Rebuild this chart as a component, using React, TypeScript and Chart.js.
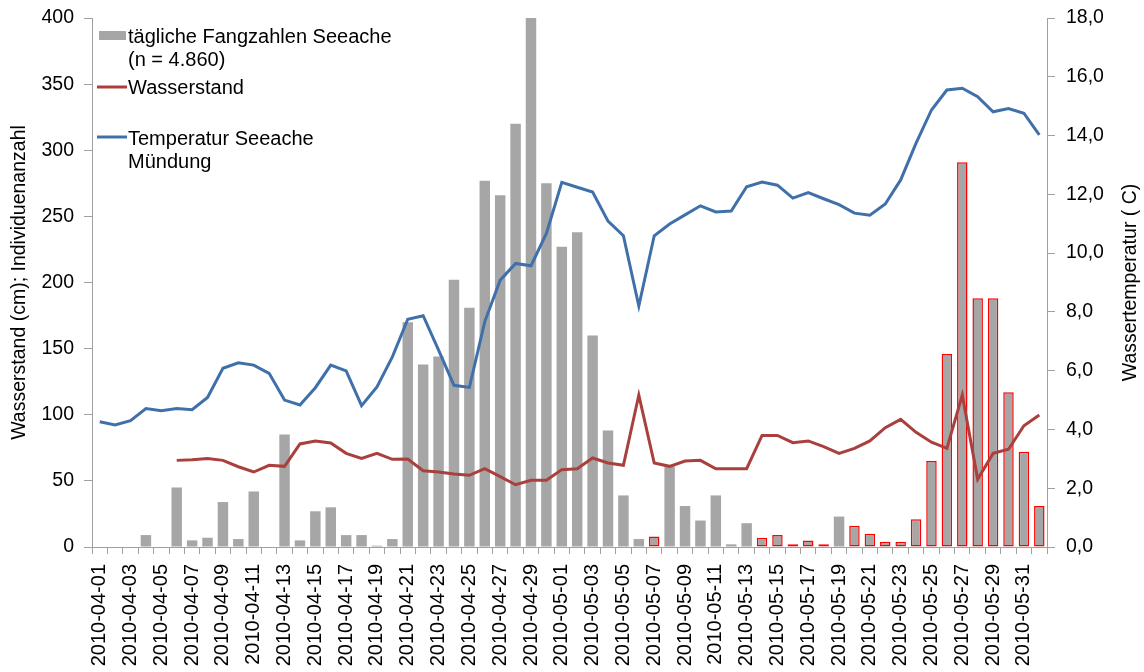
import React, { useEffect, useRef } from 'react';
import { Chart, registerables } from 'chart.js';

Chart.register(...registerables);

const dates = [
  '2010-04-01', '2010-04-02', '2010-04-03', '2010-04-04', '2010-04-05', '2010-04-06', '2010-04-07', '2010-04-08',
  '2010-04-09', '2010-04-10', '2010-04-11', '2010-04-12', '2010-04-13', '2010-04-14', '2010-04-15', '2010-04-16',
  '2010-04-17', '2010-04-18', '2010-04-19', '2010-04-20', '2010-04-21', '2010-04-22', '2010-04-23', '2010-04-24',
  '2010-04-25', '2010-04-26', '2010-04-27', '2010-04-28', '2010-04-29', '2010-04-30',
  '2010-05-01', '2010-05-02', '2010-05-03', '2010-05-04', '2010-05-05', '2010-05-06', '2010-05-07', '2010-05-08',
  '2010-05-09', '2010-05-10', '2010-05-11', '2010-05-12', '2010-05-13', '2010-05-14', '2010-05-15', '2010-05-16',
  '2010-05-17', '2010-05-18', '2010-05-19', '2010-05-20', '2010-05-21', '2010-05-22', '2010-05-23', '2010-05-24',
  '2010-05-25', '2010-05-26', '2010-05-27', '2010-05-28', '2010-05-29', '2010-05-30', '2010-05-31',
  '2010-06-01',
];

// tägliche Fangzahlen Seeache (Individuenanzahl)
const dailyCatch = [
  0, 0, 0, 9, 0, 45, 5, 7, 34, 6,
  42, 0, 85, 5, 27, 30, 9, 9, 1, 6,
  170, 138, 144, 202, 181, 277, 266, 320, 400, 275,
  227, 238, 160, 88, 39, 6, 8, 61, 31, 20,
  39, 2, 18, 7, 9, 2, 5, 2, 23, 16,
  10, 4, 4, 21, 65, 146, 291, 188, 188, 117,
  72, 31,
];

// days whose bar carries a red outline
const outlinedDays = [
  '2010-05-07', '2010-05-14', '2010-05-15', '2010-05-16', '2010-05-17', '2010-05-18',
  '2010-05-20', '2010-05-21', '2010-05-22', '2010-05-23', '2010-05-24', '2010-05-25',
  '2010-05-26', '2010-05-27', '2010-05-28', '2010-05-29', '2010-05-30', '2010-05-31', '2010-06-01',
];

// Wasserstand (cm)
const waterLevel = [
  null, null, null, null, null, 65.5, 66, 67, 65.5, 60.7,
  56.7, 61.8, 61, 77.9, 80.2, 78.6, 70.8, 67, 70.8, 66.3,
  66.5, 57.7, 56.7, 55.2, 54.2, 59.2, 53.2, 47.1, 50.4, 50.4,
  58.5, 59.2, 67.3, 63.5, 61.8, 114.9, 63.5, 61, 65, 65.5,
  59.2, 59.2, 59.2, 84.4, 84.4, 78.9, 80.2, 75.9, 70.8, 74.6,
  80.2, 90.2, 96.5, 86.7, 79.2, 74.6, 114.9, 51.2, 70.8, 73.9,
  91.7, 99.8,
];

// Temperatur Seeache Mündung (°C)
const temperature = [
  4.26, 4.15, 4.3, 4.71, 4.64, 4.71, 4.67, 5.09, 6.08, 6.27,
  6.19, 5.91, 5.0, 4.83, 5.42, 6.19, 5.99, 4.81, 5.45, 6.47,
  7.75, 7.87, 6.7, 5.5, 5.43, 7.67, 9.08, 9.65, 9.57, 10.67,
  12.41, 12.24, 12.08, 11.09, 10.59, 8.2, 10.59, 10.99, 11.3, 11.61,
  11.4, 11.43, 12.26, 12.42, 12.31, 11.87, 12.06, 11.85, 11.65, 11.36,
  11.29, 11.67, 12.49, 13.74, 14.87, 15.55, 15.61, 15.32, 14.81, 14.92,
  14.76, 14.02,
];

const legendLabels = {
  bars: ['tägliche Fangzahlen Seeache', '(n = 4.860)'],
  water: ['Wasserstand'],
  temp: ['Temperatur Seeache', 'Mündung'],
};
const leftTitle = 'Wasserstand (cm); Individuenanzahl';
const rightTitle = 'Wassertemperatur ( C)';

const GREY = '#A6A6A6';
const RED_LINE = '#A9403D';
const BLUE_LINE = '#4070AA';
const AXIS = '#A0A0A0';
const FONT = 'Liberation Sans, Arial, sans-serif';

const overlayPlugin = {
  id: 'overlayLegend',
  afterDraw(chart: any) {
    const ctx = chart.ctx;
    ctx.save();
    ctx.font = `20px ${FONT}`;
    ctx.textAlign = 'left';
    ctx.textBaseline = 'middle';
    // bars
    ctx.fillStyle = GREY;
    ctx.fillRect(99, 31, 27, 9);
    ctx.fillStyle = '#000';
    ctx.fillText(legendLabels.bars[0], 128, 37);
    ctx.fillText(legendLabels.bars[1], 128, 60);
    // water level
    ctx.strokeStyle = RED_LINE;
    ctx.lineWidth = 3;
    ctx.beginPath();
    ctx.moveTo(97, 87);
    ctx.lineTo(127, 87);
    ctx.stroke();
    ctx.fillText(legendLabels.water[0], 128, 88);
    // temperature
    ctx.strokeStyle = BLUE_LINE;
    ctx.beginPath();
    ctx.moveTo(97, 137);
    ctx.lineTo(127, 137);
    ctx.stroke();
    ctx.fillText(legendLabels.temp[0], 128, 139);
    ctx.fillText(legendLabels.temp[1], 128, 162);
    // right axis title (reads bottom to top)
    const area = chart.chartArea;
    ctx.font = `19.5px ${FONT}`;
    ctx.translate(1131, (area.top + area.bottom) / 2);
    ctx.rotate(-Math.PI / 2);
    ctx.textAlign = 'center';
    ctx.fillText(rightTitle, 0, 0);
    ctx.restore();
  },
};

export default function App() {
  const canvasRef = useRef<HTMLCanvasElement | null>(null);

  useEffect(() => {
    if (!canvasRef.current) return;
    const outlined = dates.map((d) => outlinedDays.includes(d));
    const chart = new Chart(canvasRef.current, {
      type: 'bar',
      data: {
        labels: dates,
        datasets: [
          {
            type: 'line',
            label: 'Temperatur Seeache Mündung',
            data: temperature,
            yAxisID: 'y1',
            borderColor: BLUE_LINE,
            borderWidth: 3,
            pointRadius: 0,
            tension: 0,
            order: 0,
          },
          {
            type: 'line',
            label: 'Wasserstand',
            data: waterLevel,
            yAxisID: 'y',
            borderColor: RED_LINE,
            borderWidth: 3,
            pointRadius: 0,
            tension: 0,
            spanGaps: false,
            order: 1,
          },
          {
            type: 'bar',
            label: 'tägliche Fangzahlen Seeache (n = 4.860)',
            data: dailyCatch,
            yAxisID: 'y',
            backgroundColor: GREY,
            borderColor: outlined.map((o) => (o ? '#FF0000' : 'rgba(0,0,0,0)')),
            borderWidth: outlined.map((o) => (o ? 1.5 : 0)),
            borderSkipped: false,
            categoryPercentage: 1,
            barPercentage: 0.68,
            order: 2,
          },
        ],
      },
      options: {
        responsive: true,
        maintainAspectRatio: false,
        animation: false,
        layout: { padding: { top: 18, left: 0, right: 0, bottom: 0 } },
        plugins: {
          legend: { display: false },
          tooltip: { enabled: false },
        },
        scales: {
          x: {
            type: 'category',
            offset: true,
            grid: {
              offset: true,
              drawOnChartArea: false,
              drawTicks: true,
              tickLength: 7,
              color: AXIS,
            },
            border: { display: true, color: AXIS, width: 1 },
            ticks: {
              autoSkip: false,
              maxRotation: 90,
              minRotation: 90,
              padding: 10,
              color: '#000',
              font: { family: FONT, size: 20 },
              callback: (_v: any, i: number) => (i % 2 === 0 ? dates[i] : ''),
            },
            afterFit: (s: any) => {
              s.height = 125;
            },
          },
          y: {
            position: 'left',
            min: 0,
            max: 400,
            grid: { drawOnChartArea: false, drawTicks: true, tickLength: 8, color: AXIS },
            border: { display: true, color: AXIS, width: 1 },
            ticks: {
              stepSize: 50,
              padding: 10,
              color: '#000',
              font: { family: FONT, size: 19.5 },
            },
            title: {
              display: true,
              text: leftTitle,
              color: '#000',
              font: { family: FONT, size: 19.5 },
              padding: { top: 8, bottom: 0 },
            },
            afterFit: (s: any) => {
              s.width = 92;
              s.paddingTop = 0;
              s.paddingBottom = 0;
            },
          },
          y1: {
            position: 'right',
            min: 0,
            max: 18,
            grid: { drawOnChartArea: false, drawTicks: true, tickLength: 8, color: AXIS },
            border: { display: true, color: AXIS, width: 1 },
            ticks: {
              stepSize: 2,
              padding: 11,
              color: '#000',
              font: { family: FONT, size: 19.5 },
              callback: (v: any) => Number(v).toFixed(1).replace('.', ','),
            },
            afterFit: (s: any) => {
              s.width = 97;
              s.paddingTop = 0;
              s.paddingBottom = 0;
            },
          },
        },
      },
      plugins: [overlayPlugin],
    });
    return () => chart.destroy();
  }, []);

  return (
    <div style={{ position: 'absolute', left: 0, top: 0, width: 1144, height: 672, background: '#fff' }}>
      <canvas ref={canvasRef} />
    </div>
  );
}
